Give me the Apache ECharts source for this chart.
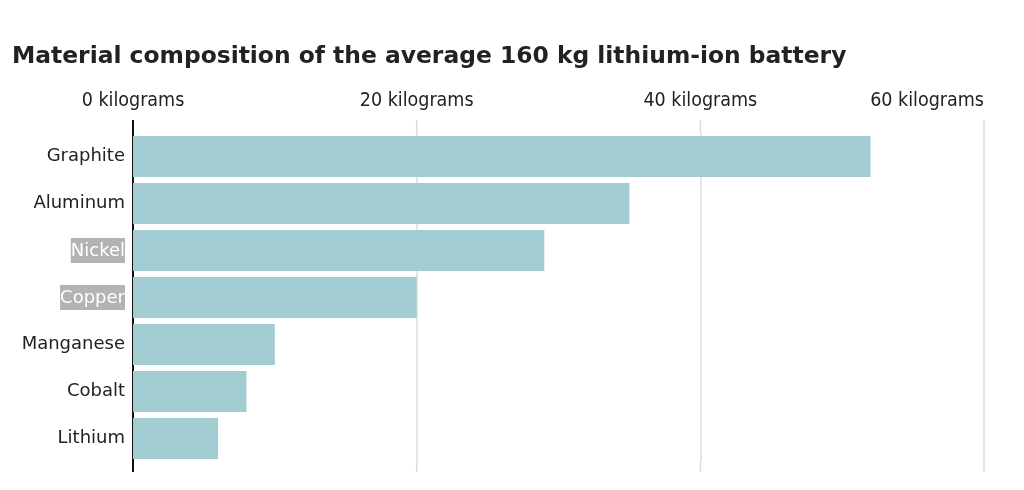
<!DOCTYPE html>
<html><head><meta charset="utf-8">
<script src="https://cdn.jsdelivr.net/npm/echarts@6/dist/echarts.min.js"></script>
<style>html,body{margin:0;padding:0;background:#fff}#c{width:1024px;height:490px}</style>
</head><body><div id="c"></div>
<script>
const categories = ['Graphite','Aluminum','Nickel','Copper','Manganese','Cobalt','Lithium'];
const values = [52, 35, 29, 20, 10, 8, 6];
const highlighted = ['Nickel','Copper'];
const tickValues = [0, 20, 40, 60];
const titleText = 'Material composition of the average 160 kg lithium-ion battery';

const chart = echarts.init(document.getElementById('c'));
const option = {
  animation: false,
  title: { text: titleText, left: 7, top: 40,
    textStyle: { fontFamily: 'DejaVu Sans', fontWeight: 'bold', fontSize: 23.4, color: '#222' } },
  grid: { left: 133, right: 40, top: 133, bottom: 28, containLabel: false },
  xAxis: { type: 'value', position: 'top', min: 0, max: 60, interval: 20,
    axisLine: { show: false }, axisTick: { show: false },
    splitLine: { show: true, lineStyle: { color: '#dcdcdc', width: 1.5 } },
    axisLabel: { margin: 22, color: '#222', fontSize: 19.5, fontFamily: 'DejaVu Sans Condensed',
      alignMaxLabel: 'right', formatter: v => v + ' kilograms' } },
  yAxis: { type: 'category', inverse: true, data: categories,
    axisLine: { show: true, lineStyle: { color: '#111', width: 2 } },
    axisTick: { show: false },
    axisLabel: { margin: 8, fontSize: 18, fontFamily: 'DejaVu Sans', color: '#222',
      formatter: v => highlighted.includes(v) ? '{h|' + v + '}' : v,
      rich: { h: { backgroundColor: '#b3b3b3', color: '#fff', fontSize: 18, fontFamily: 'DejaVu Sans', padding: [4, 0, 3, 0] } } } },
  series: [{ type: 'bar', data: values, barCategoryGap: '13%',
    itemStyle: { color: '#a2cbd2' } }]
};
chart.setOption(option);
// extend vertical rules slightly beyond the plot band, as in the original
const topY = 120, botY = 472;
const gTop = 133, gBot = 490 - 28;
const g = [];
tickValues.forEach((t, i) => {
  const x = chart.convertToPixel({ xAxisIndex: 0 }, t);
  const isAxis = i === 0;
  const style = isAxis ? { stroke: '#111', lineWidth: 2 } : { stroke: '#dcdcdc', lineWidth: 1.5 };
  g.push({ type: 'line', shape: { x1: x, y1: topY, x2: x, y2: gTop }, style, z: 10 });
  g.push({ type: 'line', shape: { x1: x, y1: gBot, x2: x, y2: botY }, style, z: 10 });
});
chart.setOption({ graphic: g });
</script></body></html>
